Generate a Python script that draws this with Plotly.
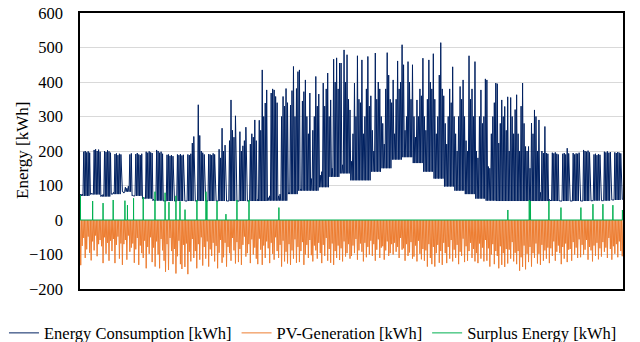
import plotly.graph_objects as go

# ---------------- data ----------------
# Daily peak consumption [kWh], one row per week (Sat..Fri), day 0 = first day of the year
consumption_peak_weeks = [
    [75, 75, 198, 200, 196, 199, 195],
    [78, 76, 203, 205, 200, 204, 198],
    [72, 74, 200, 197, 202, 199, 195],
    [76, 80, 191, 193, 188, 192, 190],
    [82, 78, 95, 92, 98, 190, 193],
    [72, 70, 191, 194, 190, 188, 192],
    [66, 64, 198, 195, 199, 196, 194],
    [60, 58, 203, 200, 195, 198, 192],
    [56, 56, 189, 190, 186, 188, 185],
    [55, 55, 190, 188, 191, 187, 189],
    [55, 55, 190, 188, 192, 223, 242],
    [55, 55, 334, 245, 200, 195, 190],
    [55, 55, 191, 190, 188, 193, 190],
    [55, 55, 205, 180, 266, 200, 217],
    [55, 55, 230, 348, 260, 240, 302],
    [55, 55, 256, 200, 215, 230, 269],
    [55, 55, 220, 250, 240, 290, 230],
    [60, 289, 260, 435, 300, 339, 377],
    [65, 70, 368, 380, 377, 358, 340],
    [70, 75, 300, 358, 330, 381, 340],
    [80, 333, 375, 445, 300, 381, 430],
    [435, 90, 345, 372, 406, 300, 250],
    [368, 120, 260, 300, 416, 330, 365],
    [130, 140, 397, 330, 380, 426, 300],
    [348, 150, 466, 400, 470, 380, 455],
    [455, 160, 493, 400, 479, 350, 319],
    [170, 250, 397, 300, 476, 350, 340],
    [464, 250, 300, 380, 474, 330, 360],
    [260, 200, 484, 350, 400, 380, 300],
    [280, 220, 380, 485, 420, 350, 340],
    [406, 250, 350, 461, 380, 400, 508],
    [450, 260, 300, 459, 400, 350, 450],
    [300, 240, 348, 300, 380, 360, 469],
    [300, 260, 350, 464, 400, 380, 482],
    [350, 250, 300, 420, 514, 380, 360],
    [280, 220, 300, 380, 340, 444, 300],
    [250, 200, 300, 387, 350, 406, 300],
    [230, 200, 476, 350, 380, 300, 459],
    [200, 180, 300, 377, 280, 300, 409],
    [406, 155, 150, 250, 300, 340, 397],
    [395, 223, 280, 348, 300, 329, 260],
    [357, 200, 355, 300, 250, 320, 363],
    [250, 200, 330, 397, 280, 213, 200],
    [213, 150, 281, 250, 319, 300, 200],
    [290, 80, 200, 194, 271, 194, 192],
    [60, 58, 195, 193, 196, 192, 190],
    [56, 55, 192, 194, 190, 208, 193],
    [55, 55, 194, 190, 193, 192, 195],
    [55, 55, 203, 200, 198, 201, 196],
    [55, 56, 190, 192, 188, 191, 189],
    [56, 56, 198, 196, 199, 195, 197],
    [58, 58, 196, 194, 197, 195, 193],
]
consumption_peak_last_day = [60]

# Night-time (base) consumption level per week [kWh]
consumption_base_weeks = [
    70, 74, 68, 75, 82, 70, 62, 56, 55, 55, 55, 55, 55, 55, 55, 55, 55, 55,
    56, 56, 75, 85, 85, 95, 125, 135, 115, 115, 140, 150, 175, 182, 165, 140,
    120, 97, 85, 75, 62, 56, 55, 55, 55, 55, 55, 55, 55, 55, 55, 56, 56, 58, 60,
]

# Daily PV generation peak [kWh] (drawn negative), one row per week
pv_generation_weeks = [
    [-131, -75, -52, -110, -85, -48, -95],
    [-117, -62, -88, -45, -105, -70, -58],
    [-76, -125, -50, -98, -66, -118, -60],
    [-90, -55, -125, -72, -48, -112, -68],
    [-130, -70, -58, -115, -45, -92, -80],
    [-68, -124, -85, -52, -130, -74, -96],
    [-110, -60, -140, -78, -98, -50, -122],
    [-80, -135, -62, -100, -140, -55, -88],
    [-118, -150, -70, -145, -52, -90, -128],
    [-84, -155, -105, -60, -128, -142, -72],
    [-136, -68, -157, -92, -120, -55, -110],
    [-90, -140, -70, -115, -50, -132, -78],
    [-112, -62, -135, -85, -104, -66, -120],
    [-75, -140, -95, -58, -124, -108, -66],
    [-135, -78, -96, -118, -52, -88, -126],
    [-64, -122, -84, -130, -72, -48, -106],
    [-96, -70, -125, -56, -100, -80, -112],
    [-128, -54, -86, -130, -74, -110, -62],
    [-82, -125, -66, -98, -115, -50, -90],
    [-110, -72, -135, -60, -120, -92, -126],
    [-70, -130, -88, -112, -56, -124, -78],
    [-122, -90, -64, -130, -100, -72, -110],
    [-58, -102, -120, -74, -88, -112, -66],
    [-96, -125, -72, -104, -52, -118, -84],
    [-124, -68, -130, -90, -110, -74, -116],
    [-82, -120, -62, -106, -96, -70, -112],
    [-104, -74, -96, -55, -115, -88, -68],
    [-92, -120, -66, -108, -78, -100, -60],
    [-104, -70, -118, -86, -56, -110, -80],
    [-76, -115, -88, -62, -104, -96, -70],
    [-100, -66, -92, -78, -110, -52, -86],
    [-82, -118, -70, -104, -94, -64, -112],
    [-106, -74, -120, -60, -98, -114, -84],
    [-118, -88, -135, -70, -110, -128, -78],
    [-135, -96, -72, -124, -90, -130, -66],
    [-96, -125, -78, -112, -58, -120, -86],
    [-110, -72, -128, -92, -104, -54, -122],
    [-76, -118, -90, -66, -110, -84, -120],
    [-96, -125, -68, -112, -80, -120, -58],
    [-118, -82, -135, -100, -70, -128, -90],
    [-104, -140, -76, -130, -96, -136, -84],
    [-126, -86, -112, -64, -120, -95, -128],
    [-90, -147, -108, -136, -74, -143, -98],
    [-122, -78, -135, -96, -110, -68, -126],
    [-98, -130, -72, -118, -88, -112, -80],
    [-125, -82, -104, -62, -118, -92, -74],
    [-96, -128, -78, -112, -68, -122, -86],
    [-84, -118, -64, -100, -80, -110, -56],
    [-108, -72, -100, -86, -58, -115, -78],
    [-88, -120, -74, -104, -66, -114, -82],
    [-106, -64, -92, -80, -110, -52, -84],
    [-115, -76, -98, -70, -108, -62, -90],
]
pv_generation_last_day = [-105]

# Surplus energy events: day of year and height [kWh]
surplus_day = [0.3, 8.5, 15.5, 22.3, 30.2, 31.9, 36.0, 42.5, 50.4, 57.2, 59.8, 64.5,
               67.2, 70.6, 78.6, 84.7, 85.3, 92.1, 98.1, 105.5, 113.6, 133.7,
               287.6, 302.0, 302.8, 315.2, 323.3, 336.7, 344.8, 351.5, 358.2, 364.6]
surplus_kwh = [72, 55, 49, 58, 56, 43, 63, 66, 82, 79, 52, 70,
               54, 30, 58, 82, 55, 55, 17, 58, 58, 36,
               29, 58, 55, 55, 36, 36, 46, 46, 43, 29]

# ---------------- build series ----------------
cons_peak = [v for wk in consumption_peak_weeks for v in wk] + consumption_peak_last_day
cons_base = [consumption_base_weeks[d // 7] for d in range(len(cons_peak))]
pv = [v for wk in pv_generation_weeks for v in wk] + pv_generation_last_day
n_days = len(cons_peak)

cx, cy = [], []
for d in range(n_days):
    cx += [d, d + 0.5]
    cy += [cons_base[d], cons_peak[d]]
cx.append(n_days)
cy.append(cons_base[-1])

pvx, pvy = [], []
for d in range(n_days):
    pvx += [d, d + 0.5]
    pvy += [0, pv[d]]
pvx.append(n_days)
pvy.append(0)

sx, sy = [0], [0]
for d, v in zip(surplus_day, surplus_kwh):
    sx += [d - 0.06, d, d + 0.06]
    sy += [0, v, 0]
sx.append(n_days)
sy.append(0)

SERIF = "Liberation Serif"

fig = go.Figure()
fig.add_trace(go.Scatter(x=cx, y=cy, mode="lines", name="Energy Consumption [kWh]",
                         line=dict(color="#002060", width=1)))
fig.add_trace(go.Scatter(x=pvx, y=pvy, mode="lines", name="PV-Generation [kWh]",
                         line=dict(color="#ED7D31", width=1)))
fig.add_trace(go.Scatter(x=sx, y=sy, mode="lines", name="Surplus Energy [kWh]",
                         line=dict(color="#00B050", width=1)))

fig.update_layout(
    width=640, height=342,
    margin=dict(l=80, r=17, t=13, b=53, autoexpand=False),
    paper_bgcolor="white", plot_bgcolor="white",
    font=dict(family=SERIF, size=16, color="#000000"),
    legend=dict(orientation="h", x=-0.140, xanchor="left", y=-0.16, yanchor="middle",
                font=dict(family=SERIF, size=16.5, color="#000000"),
                bgcolor="rgba(0,0,0,0)", borderwidth=0, tracegroupgap=0),
    annotations=[dict(text="Energy [kWh]", textangle=-90, xref="paper", yref="paper",
                      x=(22 - 80) / 543, y=0.5, xanchor="center", yanchor="middle",
                      showarrow=False, font=dict(family=SERIF, size=17, color="#000000"))],
)
fig.update_xaxes(range=[0, n_days], showgrid=False, showticklabels=False, ticks="",
                 zeroline=False, showline=True, linecolor="black", linewidth=1.5, mirror=True)
fig.update_yaxes(range=[-200, 600], tick0=0, dtick=100, gridcolor="#D9D9D9", gridwidth=1,
                 zeroline=False, showline=True, linecolor="black", linewidth=1.5, mirror=True,
                 ticks="", ticklabelstandoff=12,
                 tickfont=dict(family=SERIF, size=16.5, color="#000000"))

fig.write_html("out.html")
